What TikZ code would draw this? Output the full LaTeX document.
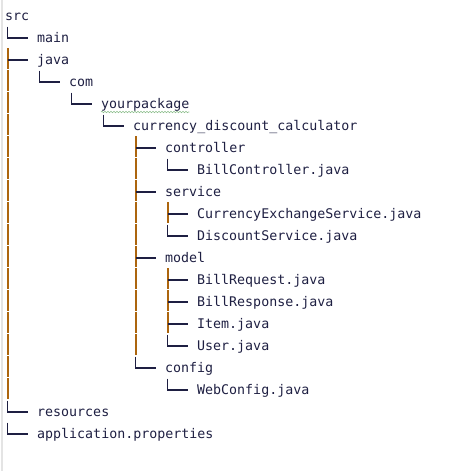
\documentclass[tikz,border=0pt]{standalone}
\usepackage{fontspec}
\usepackage{tikz}
\usetikzlibrary{calc,decorations.pathmorphing}
\newfontfamily\codefont{DejaVu Sans Mono}
\definecolor{ink}{RGB}{30,31,66}
\definecolor{guide}{RGB}{172,101,14}
\definecolor{spellgreen}{RGB}{140,190,140}
\definecolor{edgegray}{RGB}{228,228,228}

\begin{document}
\begin{tikzpicture}[x=1pt,y=-1pt]
    \tikzset{entry/.style = {anchor=base west,inner sep=0pt,text=ink,font=\codefont\fontsize{13.3}{16}\selectfont}}
    \tikzset{branch/.style = {draw=ink,line width=1.2pt}}
    \tikzset{elbow/.style = {branch,to path={([shift={(-29.5,-16)}]\tikztotarget.base west) |- ([shift={(-9,-4.5)}]\tikztotarget.base west)}}}
    \tikzset{tee/.style = {branch,to path={([shift={(-29.5,-4.5)}]\tikztotarget.base west) -- ([shift={(-9,-4.5)}]\tikztotarget.base west)}}}
    \tikzset{trunk/.style = {draw=guide,line width=2pt}}
    \tikzset{spell/.style = {draw=spellgreen,line width=0.6pt,decorate,decoration={snake,amplitude=0.7pt,segment length=3pt}}}
    \useasboundingbox (0,0) rectangle (448,471);
    \fill[edgegray] (0.5,0) rectangle (2.5,471);
    % entries
    \node[entry] (src) at (5,20.5) {src};
    \node[entry] (main) at (37,42.5) {main};
    \node[entry] (java) at (37,64.5) {java};
    \node[entry] (com) at (69,86.5) {com};
    \node[entry] (pkg) at (101,108.5) {yourpackage};
    \node[entry] (calc) at (133,130.5) {currency\_discount\_calculator};
    \node[entry] (controller) at (165,152.5) {controller};
    \node[entry] (billctrl) at (197,174.5) {BillController.java};
    \node[entry] (service) at (165,196.5) {service};
    \node[entry] (currex) at (197,218.5) {CurrencyExchangeService.java};
    \node[entry] (discount) at (197,240.5) {DiscountService.java};
    \node[entry] (model) at (165,262.5) {model};
    \node[entry] (billreq) at (197,284.5) {BillRequest.java};
    \node[entry] (billresp) at (197,306.5) {BillResponse.java};
    \node[entry] (item) at (197,328.5) {Item.java};
    \node[entry] (user) at (197,350.5) {User.java};
    \node[entry] (config) at (165,372.5) {config};
    \node[entry] (webcfg) at (197,394.5) {WebConfig.java};
    \node[entry] (resources) at (37,416.5) {resources};
    \node[entry] (appprops) at (37,438.5) {application.properties};
    \draw[spell] ([shift={(0,3.5)}]pkg.base west) -- ([shift={(0,3.5)}]pkg.base east);
    % trunks
    \foreach \r in {java,com,pkg,calc,controller,billctrl,service,currex,discount,model,billreq,billresp,item,user,config,webcfg}
        \draw[trunk] ($(java.base west |- \r.base west)+(-29.5,-16.5)$) -- ++(0,21);
    \foreach \r in {controller,billctrl,service,currex,discount,model,billreq,billresp,item,user}
        \draw[trunk] ($(controller.base west |- \r.base west)+(-29.5,-16.5)$) -- ++(0,21);
    \foreach \r in {currex}
        \draw[trunk] ($(currex.base west |- \r.base west)+(-29.5,-16.5)$) -- ++(0,21);
    \foreach \r in {billreq,billresp,item}
        \draw[trunk] ($(billreq.base west |- \r.base west)+(-29.5,-16.5)$) -- ++(0,21);
    % branches
    \draw[elbow] (src) to (main);
    \draw[tee] (src) to (java);
    \draw[elbow] (java) to (com);
    \draw[elbow] (com) to (pkg);
    \draw[elbow] (pkg) to (calc);
    \draw[tee] (calc) to (controller);
    \draw[elbow] (controller) to (billctrl);
    \draw[tee] (calc) to (service);
    \draw[tee] (service) to (currex);
    \draw[elbow] (service) to (discount);
    \draw[tee] (calc) to (model);
    \draw[tee] (model) to (billreq);
    \draw[tee] (model) to (billresp);
    \draw[tee] (model) to (item);
    \draw[elbow] (model) to (user);
    \draw[elbow] (calc) to (config);
    \draw[elbow] (config) to (webcfg);
    \draw[elbow] (src) to (resources);
    \draw[elbow] (src) to (appprops);
\end{tikzpicture}
\end{document}
